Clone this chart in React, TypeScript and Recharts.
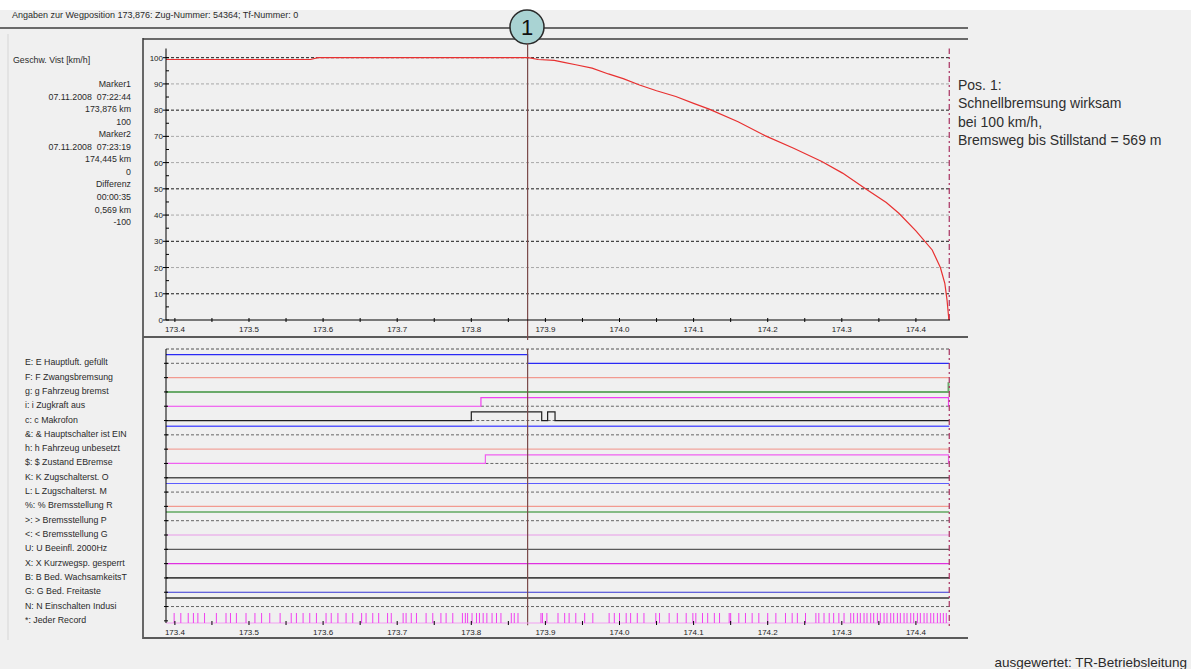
import React from 'react';
import { LineChart, ComposedChart, Line, XAxis, YAxis, ReferenceLine, Scatter } from 'recharts';

const FONT = '"Liberation Sans", Arial, Helvetica, sans-serif';

// ---------------- data ----------------
const headerText = 'Angaben zur Wegposition 173,876: Zug-Nummer: 54364; Tf-Nummer: 0';
const speedAxisTitle = 'Geschw. Vist [km/h]';
const infoLines = [
  'Marker1', '07.11.2008  07:22:44', '173,876 km', '100',
  'Marker2', '07.11.2008  07:23:19', '174,445 km', '0',
  'Differenz', '00:00:35', '0,569 km', '-100',
];
const noteLines = ['Pos. 1:', 'Schnellbremsung wirksam', 'bei 100 km/h,', 'Bremsweg bis Stillstand = 569 m'];
const footerText = 'ausgewertet: TR-Betriebsleitung';
const markerLabel = '1';

const xDomain = [173.388, 174.446];
const markerKm = 173.876;
const endKm = 174.445;
const xTicks = [173.4, 173.45, 173.5, 173.55, 173.6, 173.65, 173.7, 173.75, 173.8, 173.85, 173.9, 173.95,
  174.0, 174.05, 174.1, 174.15, 174.2, 174.25, 174.3, 174.35, 174.4];
const speedTicks = [0, 5, 10, 15, 20, 25, 30, 35, 40, 45, 50, 55, 60, 65, 70, 75, 80, 85, 90, 95, 100];
const gridDark = [100, 80, 50, 30, 10];
const gridLight = [90, 70, 60, 40, 20];

const speedKm = [173.388, 173.583, 173.593, 173.876, 173.881, 173.890, 173.912, 173.925, 173.941, 173.963,
  173.985, 174.005, 174.027, 174.050, 174.076, 174.100, 174.121, 174.160, 174.197, 174.235, 174.273,
  174.301, 174.332, 174.360, 174.377, 174.400, 174.422, 174.433, 174.439, 174.442, 174.4445];
const speedKmh = [99.3, 99.3, 100, 100, 99.8, 99.3, 99.0, 98.2, 97.3, 96.0,
  93.8, 92.0, 89.6, 87.4, 85.2, 82.6, 80.4, 75.6, 70.2, 65.5, 60.4,
  56.0, 50.0, 44.8, 40.7, 34.0, 26.7, 20.0, 14.0, 7.6, 0];

const channelLabels = [
  'E: E Hauptluft. gefüllt', 'F: F Zwangsbremsung', 'g: g Fahrzeug bremst', 'i: i Zugkraft aus',
  'c: c Makrofon', '&: & Hauptschalter ist EIN', 'h: h Fahrzeug unbesetzt', '$: $ Zustand EBremse',
  'K: K Zugschalterst. O', 'L: L Zugschalterst. M', '%: % Bremsstellung R', '>: > Bremsstellung P',
  '<: < Bremsstellung G', 'U: U Beeinfl. 2000Hz', 'X: X Kurzwegsp. gesperrt', 'B: B Bed. WachsamkeitsT',
  'G: G Bed. Freitaste', 'N: N Einschalten Indusi', '*: Jeder Record',
];

// [km, state] transitions per channel
const sigE = [[173.388, 1], [173.876, 0]];
const sigF = [[173.388, 0]];
const sigg = [[173.388, 0], [174.444, 1]];
const sigi = [[173.388, 0], [173.813, 1], [174.444, 0]];
const sigc = [[173.388, 0], [173.800, 1], [173.895, 0], [173.903, 1], [173.913, 0]];
const sigAmp = [[173.388, 1]];
const sigh = [[173.388, 0]];
const sigDollar = [[173.388, 0], [173.819, 1], [174.444, 0]];
const sigK = [[173.388, 0]];
const sigL = [[173.388, 1]];
const sigPct = [[173.388, 0]];
const sigGt = [[173.388, 1]];
const sigLt = [[173.388, 0]];
const sigU = [[173.388, 0]];
const sigX = [[173.388, 0]];
const sigB = [[173.388, 0]];
const sigG = [[173.388, 0]];
const sigN = [[173.388, 1]];

const channelSignals = [sigE, sigF, sigg, sigi, sigc, sigAmp, sigh, sigDollar, sigK, sigL, sigPct, sigGt,
  sigLt, sigU, sigX, sigB, sigG, sigN];
const channelColors = ['#2a2af5', '#f29a90', '#6aaa6a', '#f040f0', '#202020', '#5a5aff', '#f2a49c', '#f060f0',
  '#505050', '#5c5cff', '#f29a90', '#60a860', '#e89ae8', '#5a5a5a', '#e030e0', '#454545', '#3535d5', '#353535'];
const channelWidths = [1.2, 1.2, 2, 1.2, 1.2, 1.5, 1.2, 1.2, 1.5, 1.2, 1.2, 1.5, 1.2, 1.2, 1.2, 1.8, 1.2, 1.5];

const recordKm = [173.399, 173.408, 173.418, 173.425, 173.431, 173.440, 173.456, 173.469, 173.475, 173.483,
  173.496, 173.508, 173.517, 173.528, 173.542, 173.557, 173.564, 173.573, 173.582, 173.591, 173.604,
  173.611, 173.620, 173.631, 173.640, 173.652, 173.658, 173.667, 173.675, 173.687, 173.692, 173.708,
  173.712, 173.719, 173.726, 173.739, 173.748, 173.759, 173.766, 173.775, 173.788, 173.792, 173.795,
  173.801, 173.807, 173.811, 173.816, 173.821, 173.828, 173.834, 173.840, 173.854, 173.858, 173.863,
  173.894, 173.896, 173.902, 173.917, 173.926, 173.932, 173.941, 173.953, 173.964, 173.986, 173.993,
  174.000, 174.009, 174.015, 174.024, 174.033, 174.049, 174.054, 174.067, 174.078, 174.090, 174.099,
  174.103, 174.112, 174.119, 174.128, 174.135, 174.148, 174.150, 174.161, 174.170, 174.179, 174.188,
  174.200, 174.211, 174.224, 174.233, 174.240, 174.251, 174.265, 174.269, 174.276, 174.283, 174.289,
  174.296, 174.303, 174.312, 174.316, 174.321, 174.325, 174.330, 174.334, 174.339, 174.343, 174.348,
  174.352, 174.357, 174.361, 174.366, 174.370, 174.375, 174.379, 174.384, 174.388, 174.393, 174.397,
  174.402, 174.406, 174.411, 174.415, 174.420, 174.424, 174.429, 174.433, 174.437, 174.441];

// ---------------- derived tables ----------------
const ROW_AMP = 0.6;
const ROW_TOP = -1;
const ROW_BOTTOM = 18.15;
const RECORD_ROW = 18.15;

const speedData = speedKm.map((k, i) => ({ x: k, y: speedKmh[i] }));

function buildStep(trans: number[][], row: number) {
  const pts = trans.map(([k, s]) => ({ x: k, y: s ? row - ROW_AMP : row }));
  pts.push({ x: endKm, y: pts[pts.length - 1].y });
  return pts;
}
function buildBase(trans: number[][], row: number) {
  const out: { x: number; y: number | null }[] = [];
  for (let j = 0; j < trans.length; j++) {
    const [k, s] = trans[j];
    if (s) {
      const end = j + 1 < trans.length ? trans[j + 1][0] : endKm;
      out.push({ x: k, y: row }, { x: end, y: row }, { x: end, y: null });
    }
  }
  return out;
}
const recordData = recordKm.map((k) => ({ x: k, y: RECORD_ROW }));

// ---------------- ticks ----------------
const isMajor = (v: number) => Math.abs(v * 10 - Math.round(v * 10)) < 1e-6;

function SpeedTick(props: any) {
  const { x, y, payload } = props;
  const v = payload.value;
  const major = v % 10 === 0;
  return (
    <g>
      <line x1={major ? x - 3 : x} x2={x + 3} y1={y} y2={y} stroke="#000" strokeWidth={1} />
      {major && (
        <text x={x - 3} y={y} dy={3} textAnchor="end" fontSize={8} fill="#222" fontFamily={FONT}>{v}</text>
      )}
    </g>
  );
}
function KmTick(props: any) {
  const { x, y, payload } = props;
  const v = payload.value;
  const major = isMajor(v);
  return (
    <g>
      <line x1={x} x2={x} y1={y - 2} y2={y + 2} stroke="#000" strokeWidth={1} />
      {major && (
        <text x={x} y={y + 12} textAnchor="middle" fontSize={8} fill="#222" fontFamily={FONT}>{v.toFixed(1)}</text>
      )}
    </g>
  );
}
function ChannelTick(props: any) {
  const { x, y, payload } = props;
  const label = channelLabels[payload.value];
  return (
    <g>
      <line x1={x - 2} x2={x + 2} y1={y} y2={y} stroke="#000" strokeWidth={1} />
      <text x={x - 141} y={y} dy={2} textAnchor="start" fontSize={8.8} fill="#2a2a2a" fontFamily={FONT}>{label}</text>
    </g>
  );
}
const RecordShape = (p: any) => (
  <line x1={p.cx} x2={p.cx} y1={p.cy} y2={p.cy - 10} stroke="#f040f0" strokeWidth={1} />
);

const rowIndices = channelLabels.map((_, i) => i);

export default function App() {
  return (
    <div style={{ position: 'absolute', left: 0, top: 0, width: 1191, height: 669, background: '#f0f0f0', overflow: 'hidden', fontFamily: FONT }}>
      <svg width={1191} height={669} style={{ position: 'absolute', left: 0, top: 0 }}>
        <rect x={0} y={0} width={1191} height={10} fill="#ffffff" />
        <line x1={8} x2={8} y1={34} y2={640} stroke="#d6d6d6" strokeWidth={1} />
        <text x={12} y={18} fontSize={9} fill="#2a2a2a" fontFamily={FONT}>{headerText}</text>
        <line x1={0} x2={968} y1={28} y2={28} stroke="#6a6a6a" strokeWidth={2} />
        <line x1={143} x2={968} y1={39} y2={39} stroke="#6a6a6a" strokeWidth={2} />
        <line x1={143} x2={143} y1={38} y2={639} stroke="#3a3a3a" strokeWidth={1.5} />
        <line x1={143} x2={968} y1={337} y2={337} stroke="#5a5a5a" strokeWidth={2} />
        <line x1={143} x2={968} y1={638} y2={638} stroke="#5a5a5a" strokeWidth={2} />
        <circle cx={527} cy={27} r={17} fill="#a9d3d3" stroke="#2a2a2a" strokeWidth={1.5} />
        <text x={527} y={35} textAnchor="middle" fontSize={22} fill="#111" fontFamily={FONT}>{markerLabel}</text>
        <text x={13} y={63} fontSize={8.8} fill="#2a2a2a" fontFamily={FONT}>{speedAxisTitle}</text>
        {infoLines.map((t, i) => (
          <text key={i} x={131} y={87 + i * 12.55} textAnchor="end" fontSize={8.8} fill="#2a2a2a" fontFamily={FONT} style={{ whiteSpace: 'pre' }}>{t}</text>
        ))}
        {noteLines.map((t, i) => (
          <text key={i} x={958} y={90 + i * 18.3} fontSize={14} fill="#2e2e2e" fontFamily={FONT}>{t}</text>
        ))}
        <text x={1187} y={667} textAnchor="end" fontSize={13.5} fill="#2a2a2a" fontFamily={FONT}>{footerText}</text>
      </svg>

      <div style={{ position: 'absolute', left: 0, top: 0 }}>
        <LineChart width={960} height={340} margin={{ top: 48.5, right: 10, bottom: 0, left: 0 }}>
          <XAxis dataKey="x" type="number" domain={xDomain} ticks={xTicks} interval={0} height={20}
            tickSize={0} tickMargin={0} tick={<KmTick />} axisLine={{ stroke: '#000' }} tickLine={false} />
          <YAxis dataKey="y" type="number" domain={[0, 103.5]} ticks={speedTicks} interval={0} width={166}
            tickSize={0} tickMargin={0} tick={<SpeedTick />} axisLine={{ stroke: '#000' }} tickLine={false} />
          {gridLight.map((v) => (
            <ReferenceLine key={'l' + v} y={v} stroke="#a8a8a8" strokeDasharray="3 2" />
          ))}
          {gridDark.map((v) => (
            <ReferenceLine key={'d' + v} y={v} stroke="#1a1a1a" strokeDasharray="3 2" />
          ))}
          <ReferenceLine x={endKm} stroke="#a83060" strokeDasharray="6 3 2 3" strokeWidth={1.2}
            segment={[{ x: endKm, y: 0 }, { x: endKm, y: 104 }]} ifOverflow="visible" />
          <ReferenceLine stroke="#7a4a4a" strokeWidth={1.2} ifOverflow="visible"
            segment={[{ x: markerKm, y: -11 }, { x: markerKm, y: 105.5 }]} />
          <Line data={speedData} dataKey="y" type="linear" stroke="#e83030" strokeWidth={1.2} dot={false}
            isAnimationActive={false} />
        </LineChart>
      </div>

      <div style={{ position: 'absolute', left: 0, top: 0 }}>
        <ComposedChart width={960} height={645} margin={{ top: 349, right: 10, bottom: 0, left: 0 }}>
          <XAxis dataKey="x" type="number" domain={xDomain} ticks={xTicks} interval={0} height={22}
            tickSize={0} tickMargin={0} tick={<KmTick />} axisLine={{ stroke: '#f2a0f2' }} tickLine={false} />
          <YAxis dataKey="y" type="number" domain={[ROW_TOP, ROW_BOTTOM]} reversed ticks={rowIndices} interval={0}
            width={166} tickSize={0} tickMargin={0} tick={<ChannelTick />} axisLine={{ stroke: '#000' }} tickLine={false} />
          <ReferenceLine y={ROW_TOP} stroke="#505050" strokeDasharray="3 2" />
          {channelSignals.map((s, i) => (
            <Line key={'b' + i} data={buildBase(s, i)} dataKey="y" type="linear" stroke="#666" strokeWidth={1}
              strokeDasharray="3 2" dot={false} connectNulls={false} isAnimationActive={false} />
          ))}
          {channelSignals.map((s, i) => (
            <Line key={'s' + i} data={buildStep(s, i)} dataKey="y" type="stepAfter" stroke={channelColors[i]}
              strokeWidth={channelWidths[i]} dot={false} isAnimationActive={false} />
          ))}
          <Scatter data={recordData} dataKey="y" shape={RecordShape} isAnimationActive={false} />
          <ReferenceLine stroke="#a83060" strokeDasharray="6 3 2 3" strokeWidth={1.2} ifOverflow="visible"
            segment={[{ x: endKm, y: ROW_TOP }, { x: endKm, y: 18.4 }]} />
          <ReferenceLine stroke="#7a4a4a" strokeWidth={1.2} ifOverflow="visible"
            segment={[{ x: markerKm, y: ROW_TOP }, { x: markerKm, y: 18.3 }]} />
        </ComposedChart>
      </div>
    </div>
  );
}
